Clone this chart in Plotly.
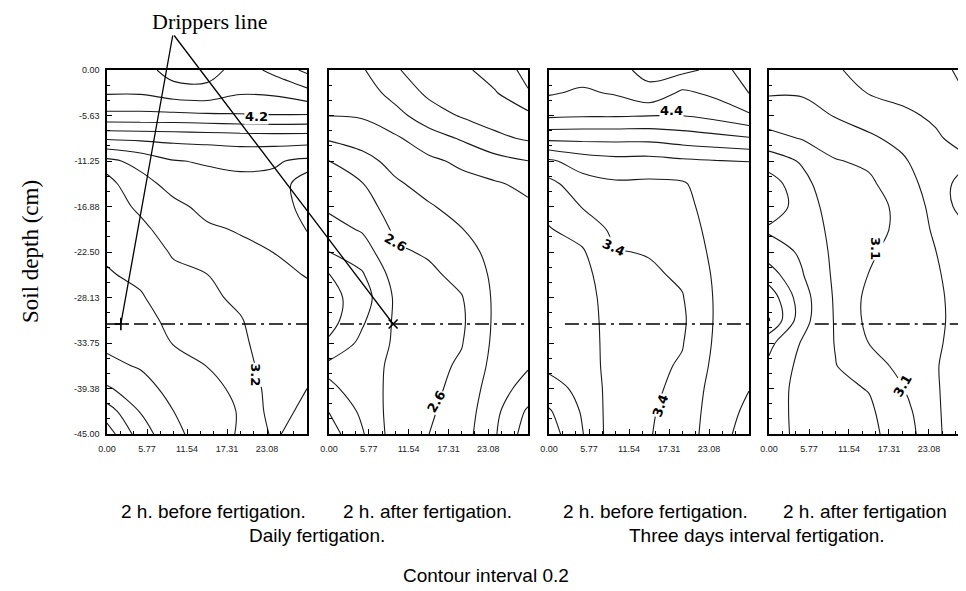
import plotly.graph_objects as go

# ---------------- data ----------------
x_cols = [0.0, 4.81, 9.62, 14.42, 19.23, 24.04, 28.85]
depth_rows = [0.0, -2.81, -5.63, -8.44, -11.25, -14.06, -16.88, -19.69, -22.5,
              -25.31, -28.13, -30.94, -33.75, -36.56, -39.38, -42.19, -45.0]

# Daily fertigation, 2 h before
z_daily_before = [
    [4.5, 4.5, 4.7, 4.7, 4.5, 4.65, 4.85],
    [4.42, 4.42, 4.5, 4.52, 4.418, 4.433, 4.533],
    [4.15, 4.15, 4.15, 4.167, 4.182, 4.19, 4.183],
    [3.625, 3.644, 3.66, 3.673, 3.691, 3.7, 3.7],
    [3.15, 3.267, 3.39, 3.419, 3.443, 3.421, 3.36],
    [3.236, 3.12, 3.277, 3.333, 3.351, 3.356, 3.44],
    [3.28, 3.17, 3.15, 3.257, 3.284, 3.304, 3.46],
    [3.327, 3.24, 3.12, 3.17, 3.217, 3.253, 3.41],
    [3.372, 3.301, 3.18, 3.12, 3.15, 3.202, 3.309],
    [3.417, 3.36, 3.242, 3.203, 3.1, 3.15, 3.209],
    [3.467, 3.419, 3.292, 3.252, 3.15, 3.1, 3.15],
    [3.516, 3.475, 3.343, 3.301, 3.216, 3.05, 3.1],
    [3.563, 3.528, 3.391, 3.348, 3.267, 3.02, 3.1],
    [3.644, 3.583, 3.46, 3.398, 3.321, 3.05, 3.15],
    [3.825, 3.68, 3.533, 3.433, 3.374, 3.1, 3.2],
    [4.094, 3.79, 3.6, 3.466, 3.39, 3.12, 3.25],
    [4.3, 3.9, 3.65, 3.5, 3.38, 3.17, 3.3],
]

# Daily fertigation, 2 h after
z_daily_after = [
    [3.1, 3.18, 3.38, 3.5, 3.55, 3.7, 3.85],
    [3.052, 3.10, 3.271, 3.436, 3.483, 3.583, 3.788],
    [3.004, 3.019, 3.135, 3.308, 3.417, 3.483, 3.55],
    [2.826, 2.883, 2.972, 3.108, 3.221, 3.358, 3.425],
    [2.598, 2.733, 2.864, 2.961, 3.037, 3.128, 3.198],
    [2.517, 2.592, 2.772, 2.869, 2.942, 2.98, 3.044],
    [2.433, 2.507, 2.704, 2.781, 2.868, 2.93, 2.97],
    [2.325, 2.421, 2.636, 2.702, 2.795, 2.89, 2.93],
    [2.198, 2.298, 2.57, 2.623, 2.726, 2.86, 2.91],
    [1.99, 2.18, 2.48, 2.56, 2.657, 2.84, 2.905],
    [1.93, 2.1, 2.43, 2.53, 2.59, 2.83, 2.905],
    [1.92, 2.17, 2.43, 2.52, 2.57, 2.83, 2.91],
    [2.033, 2.25, 2.43, 2.52, 2.59, 2.84, 2.94],
    [2.25, 2.3, 2.45, 2.53, 2.63, 2.86, 2.98],
    [2.163, 2.28, 2.47, 2.55, 2.66, 2.902, 3.083],
    [2.006, 2.24, 2.49, 2.575, 2.68, 2.95, 3.23],
    [1.9, 2.18, 2.5, 2.598, 2.702, 2.98, 3.3],
]

# Three days interval, 2 h before
z_3day_before = [
    [4.7, 4.7, 4.75, 4.85, 4.85, 4.75, 4.85],
    [4.622, 4.568, 4.622, 4.753, 4.563, 4.646, 4.806],
    [4.436, 4.419, 4.418, 4.405, 4.403, 4.465, 4.571],
    [4.05, 4.05, 4.05, 4.05, 4.097, 4.137, 4.183],
    [3.567, 3.694, 3.74, 3.733, 3.767, 3.79, 3.802],
    [3.344, 3.519, 3.572, 3.565, 3.578, 3.72, 3.74],
    [3.252, 3.409, 3.512, 3.514, 3.54, 3.69, 3.7],
    [3.19, 3.271, 3.452, 3.463, 3.503, 3.67, 3.68],
    [3.17, 3.18, 3.39, 3.411, 3.466, 3.65, 3.67],
    [3.15, 3.14, 3.33, 3.37, 3.429, 3.63, 3.66],
    [3.13, 3.12, 3.3, 3.35, 3.39, 3.62, 3.66],
    [3.11, 3.11, 3.29, 3.34, 3.37, 3.62, 3.67],
    [3.08, 3.1, 3.29, 3.34, 3.39, 3.63, 3.69],
    [3.04, 3.08, 3.3, 3.35, 3.42, 3.65, 3.73],
    [2.929, 3.05, 3.3, 3.36, 3.45, 3.68, 3.795],
    [2.778, 3.02, 3.31, 3.38, 3.47, 3.7, 3.84],
    [2.7, 2.99, 3.32, 3.39, 3.48, 3.72, 3.88],
]

# Three days interval, 2 h after
z_3day_after = [
    [2.85, 2.86, 2.72, 2.63, 2.6, 2.55, 2.45],
    [2.885, 2.886, 2.805, 2.691, 2.658, 2.613, 2.485],
    [2.988, 2.961, 2.89, 2.806, 2.731, 2.675, 2.547],
    [3.17, 3.087, 3.005, 2.934, 2.839, 2.722, 2.63],
    [3.4, 3.278, 3.11, 3.07, 2.93, 2.758, 2.72],
    [3.6, 3.36, 3.16, 3.13, 3.0, 2.794, 2.6],
    [3.62, 3.41, 3.2, 3.16, 3.06, 2.83, 2.58],
    [3.47, 3.44, 3.23, 3.16, 3.06, 2.867, 2.72],
    [3.6, 3.47, 3.25, 3.13, 3.02, 2.903, 2.77],
    [3.793, 3.51, 3.26, 3.095, 2.98, 2.92, 2.8],
    [4.025, 3.58, 3.27, 3.05, 2.96, 2.93, 2.82],
    [4.11, 3.57, 3.28, 3.05, 2.96, 2.93, 2.83],
    [3.75, 3.48, 3.29, 3.097, 2.99, 2.92, 2.83],
    [3.66, 3.44, 3.305, 3.194, 3.04, 2.91, 2.81],
    [3.62, 3.42, 3.34, 3.292, 3.11, 2.92, 2.76],
    [3.6, 3.43, 3.37, 3.33, 3.17, 2.94, 2.69],
    [3.58, 3.45, 3.38, 3.35, 3.2, 2.96, 2.65],
]

panels_z = [z_daily_before, z_daily_after, z_3day_before, z_3day_after]
level_start = [1.0, 1.0, 1.0, 1.1]
contour_step = 0.2

x_tick_vals = [0.0, 5.77, 11.54, 17.31, 23.08]
x_tick_text = ["0.00", "5.77", "11.54", "17.31", "23.08"]
y_tick_vals = [0.0, -5.63, -11.25, -16.88, -22.5, -28.13, -33.75, -39.38, -45.0]
y_tick_text = ["0.00", "-5.63", "-11.25", "-16.88", "-22.50", "-28.13", "-33.75", "-39.38", "-45.00"]

panel_captions = ["2 h. before fertigation.", "2 h. after fertigation.",
                  "2 h. before fertigation.", "2 h. after fertigation"]
group_captions = ["Daily fertigation.", "Three days interval fertigation."]
footer_text = "Contour interval 0.2"
y_title = "Soil depth (cm)"
dripper_title = "Drippers line"

dripper_depth = -31.4
dripper_line_start = [0.0, 1.6, 2.3, 6.6]
dripper_x = [2.0, 9.3]          # drippers pointed at in panels 1 and 2

# (panel, text, x, depth, angle)
contour_labels = [
    (0, "4.2", 21.6, -5.7, 0),
    (0, "3.2", 21.3, -37.7, 90),
    (1, "2.6", 9.6, -21.3, 30),
    (1, "2.6", 15.6, -41.0, -60),
    (2, "4.4", 17.6, -5.0, 0),
    (2, "3.4", 9.3, -22.0, 25),
    (2, "3.4", 16.1, -41.5, -70),
    (3, "3.1", 15.3, -22.0, 90),
    (3, "3.1", 19.3, -39.0, -60),
]

# ---------------- layout geometry (window pixels) ----------------
WIN_W, WIN_H = 966, 591
OFF = 8                          # page body margin around the plot div
W, H = WIN_W - OFF, WIN_H - OFF
x_dom_px = [(107, 307), (329, 528), (549, 749), (769, 966)]
x_ranges = [(0, 28.85), (0, 28.85), (0, 28.85), (0, 28.42)]
plot_top, plot_bottom = 70, 434
arrow_origin = (173, 34)


def px_to_paper(px, py):
    return (px - OFF) / W, 1 - (py - OFF) / H


fig = go.Figure()
for i, z in enumerate(panels_z):
    sfx = "" if i == 0 else str(i + 1)
    fig.add_trace(go.Contour(
        x=x_cols, y=depth_rows, z=z, xaxis="x" + sfx, yaxis="y" + sfx,
        autocontour=False,
        contours=dict(coloring="none", start=level_start[i],
                      end=level_start[i] + 5.0, size=contour_step, showlabels=False),
        line=dict(color="#1a1a1a", width=1.1, smoothing=1.0),
        showscale=False, hoverinfo="skip"))
    fig.add_trace(go.Scatter(
        x=[dripper_line_start[i], 28.85], y=[dripper_depth, dripper_depth],
        xaxis="x" + sfx, yaxis="y" + sfx, mode="lines",
        line=dict(color="black", width=1.4, dash="14px,5px,3px,5px"),
        hoverinfo="skip", showlegend=False))

for i, sym in enumerate(["cross-thin", "x-thin"]):
    sfx = "" if i == 0 else str(i + 1)
    fig.add_trace(go.Scatter(
        x=[dripper_x[i]], y=[dripper_depth], xaxis="x" + sfx, yaxis="y" + sfx,
        mode="markers", marker=dict(symbol=sym, size=9, line=dict(width=1.6, color="black")),
        hoverinfo="skip", showlegend=False))

tick_font = dict(family="Liberation Sans, Arial", size=9, color="#222")
yd = [px_to_paper(0, plot_bottom)[1], px_to_paper(0, plot_top)[1]]
layout = dict(width=W, height=H, margin=dict(l=0, r=0, t=0, b=0),
              paper_bgcolor="white", plot_bgcolor="white", showlegend=False)
for i in range(4):
    sfx = "" if i == 0 else str(i + 1)
    d0 = px_to_paper(x_dom_px[i][0], 0)[0]
    d1 = min(1.0, px_to_paper(x_dom_px[i][1], 0)[0])
    layout["xaxis" + sfx] = dict(
        domain=[d0, d1], range=list(x_ranges[i]),
        anchor="y" + sfx, tickmode="array", tickvals=x_tick_vals, ticktext=x_tick_text,
        ticks="inside", ticklen=5, tickcolor="black", tickfont=tick_font,
        ticklabelstandoff=5,
        minor=dict(tickmode="linear", tick0=0, dtick=1.9233, ticks="inside", ticklen=3,
                   tickcolor="black"),
        showline=True, linecolor="black", linewidth=1.5, mirror=True,
        showgrid=False, zeroline=False, automargin=False, fixedrange=True)
    layout["yaxis" + sfx] = dict(
        domain=yd, range=[-45, 0], anchor="x" + sfx, tickmode="array",
        tickvals=y_tick_vals, ticktext=y_tick_text, showticklabels=(i == 0),
        ticks="inside", ticklen=5, tickcolor="black", tickfont=tick_font,
        ticklabelstandoff=4,
        minor=dict(tickmode="linear", tick0=0, dtick=1.875, ticks="inside", ticklen=3,
                   tickcolor="black"),
        showline=True, linecolor="black", linewidth=1.5, mirror=(i < 3),
        showgrid=False, zeroline=False, automargin=False, fixedrange=True)
fig.update_layout(**layout)


def to_px(panel, x, y):
    x0, x1 = x_dom_px[panel]
    r0, r1 = x_ranges[panel]
    px = x0 + (x - r0) / (r1 - r0) * (x1 - x0)
    py = plot_top + (0 - y) / 45.0 * (plot_bottom - plot_top)
    return px, py


ann = []
for (p, txt, x, d, ang) in contour_labels:
    sfx = "" if p == 0 else str(p + 1)
    ann.append(dict(x=x, y=d, xref="x" + sfx, yref="y" + sfx, text="<b>%s</b>" % txt,
                    showarrow=False, textangle=ang, bgcolor="white", borderpad=0,
                    font=dict(family="DejaVu Sans, Arial", size=13, color="black")))

for i in range(2):
    sfx = "" if i == 0 else str(i + 1)
    px, py = to_px(i, dripper_x[i], dripper_depth)
    ann.append(dict(x=dripper_x[i], y=dripper_depth, xref="x" + sfx, yref="y" + sfx,
                    text="", showarrow=True, arrowhead=0, arrowwidth=1.3,
                    arrowcolor="black", ax=arrow_origin[0] - px, ay=arrow_origin[1] - py,
                    axref="pixel", ayref="pixel", standoff=0))

tx, ty = px_to_paper(209, 22)
ann.append(dict(x=tx, y=ty, xref="paper", yref="paper", text=dripper_title,
                xanchor="center", yanchor="middle", showarrow=False,
                font=dict(family="Liberation Serif, Times New Roman", size=22, color="black")))
tx, ty = px_to_paper(31, 252)
ann.append(dict(x=tx, y=ty, xref="paper", yref="paper", text=y_title,
                xanchor="center", yanchor="middle", showarrow=False, textangle=-90,
                font=dict(family="Liberation Serif, Times New Roman", size=23, color="black")))

cap_font = dict(family="Liberation Sans, Arial", size=19, color="black")
for cx, txt in zip([213, 427, 655, 865], panel_captions):
    tx, ty = px_to_paper(cx, 511)
    ann.append(dict(x=tx, y=ty, xref="paper", yref="paper", text=txt, xanchor="center",
                    yanchor="middle", showarrow=False, font=cap_font))
for cx, txt in zip([317, 757], group_captions):
    tx, ty = px_to_paper(cx, 535)
    ann.append(dict(x=tx, y=ty, xref="paper", yref="paper", text=txt, xanchor="center",
                    yanchor="middle", showarrow=False, font=cap_font))
tx, ty = px_to_paper(486, 575)
ann.append(dict(x=tx, y=ty, xref="paper", yref="paper", text=footer_text, xanchor="center",
                yanchor="middle", showarrow=False, font=cap_font))
fig.update_layout(annotations=ann)

fig.write_html("out.html")
